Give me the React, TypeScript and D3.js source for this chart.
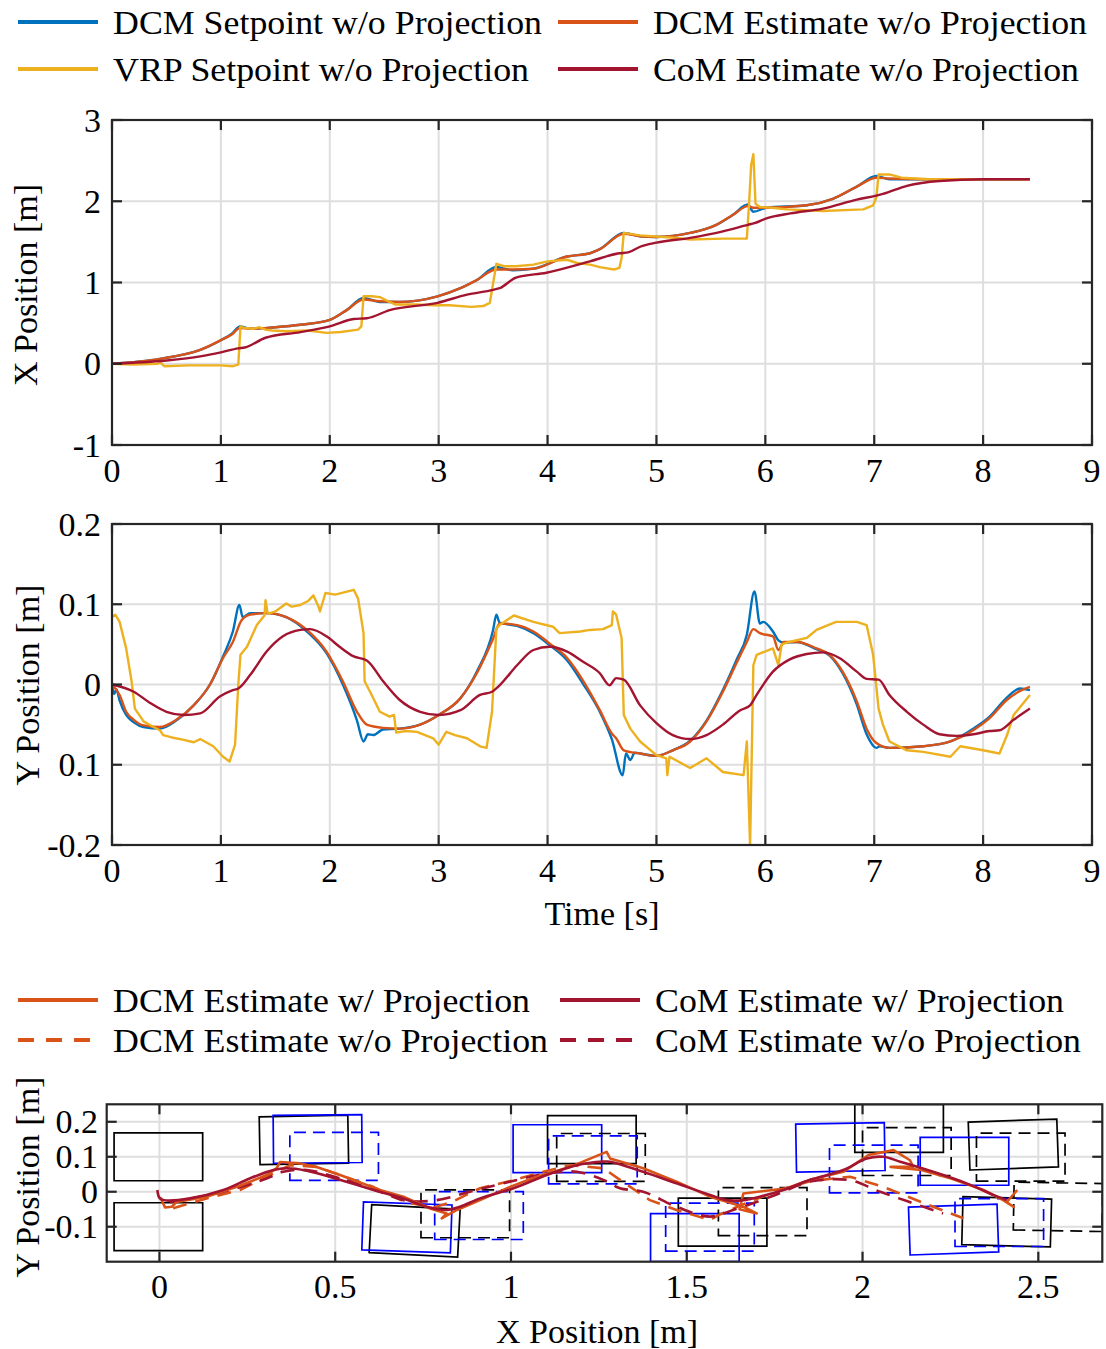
import React from 'react'
import * as d3 from 'd3'

type Pt = [number, number]

// ---------- top panel: X position over time [t, m] ----------
const xDcmSetpoint: Pt[] = [[0,0],[0.44,0.06],[0.81,0.17],[1.0,0.29],[1.1,0.37],[1.175,0.46],[1.27,0.43],[1.5,0.45],[1.73,0.48],[2.0,0.54],[2.155,0.66],[2.31,0.81],[2.46,0.76],[2.64,0.76],[2.99,0.83],[3.2,0.93],[3.35,1.03],[3.53,1.19],[3.68,1.15],[3.87,1.17],[4.18,1.32],[4.39,1.36],[4.48,1.41],[4.7,1.61],[4.85,1.57],[5.0,1.56],[5.31,1.61],[5.55,1.71],[5.7,1.83],[5.84,1.96],[5.89,1.87],[6.01,1.92],[6.38,1.95],[6.62,2.03],[6.84,2.18],[7.02,2.31],[7.14,2.27],[7.5,2.27],[8.0,2.27],[8.43,2.27]]
const xDcmEstimate: Pt[] = [[0,0],[0.44,0.06],[0.81,0.17],[1.0,0.29],[1.1,0.36],[1.175,0.44],[1.27,0.43],[1.5,0.45],[1.73,0.48],[2.0,0.54],[2.155,0.66],[2.31,0.79],[2.46,0.77],[2.64,0.76],[2.99,0.83],[3.2,0.93],[3.35,1.03],[3.53,1.16],[3.68,1.16],[3.87,1.17],[4.18,1.32],[4.39,1.36],[4.48,1.41],[4.7,1.6],[4.85,1.57],[5.0,1.56],[5.31,1.61],[5.55,1.71],[5.7,1.83],[5.84,1.94],[5.89,1.92],[6.01,1.92],[6.38,1.95],[6.62,2.03],[6.84,2.18],[7.02,2.29],[7.14,2.28],[7.5,2.27],[8.0,2.27],[8.43,2.27]]
const xVrpSetpoint: Pt[] = [[0,0],[0.2,-0.01],[0.42,0.0],[0.44,0.02],[0.48,-0.03],[0.7,-0.02],[1.0,-0.02],[1.11,-0.03],[1.16,-0.01],[1.18,0.46],[1.21,0.44],[1.3,0.43],[1.35,0.45],[1.41,0.42],[1.47,0.41],[1.6,0.4],[1.8,0.41],[1.97,0.38],[2.1,0.39],[2.26,0.42],[2.29,0.46],[2.31,0.83],[2.39,0.83],[2.46,0.82],[2.55,0.76],[2.6,0.73],[2.8,0.73],[2.95,0.72],[3.1,0.72],[3.3,0.7],[3.41,0.71],[3.47,0.75],[3.53,1.23],[3.6,1.2],[3.71,1.2],[3.87,1.22],[4.0,1.26],[4.18,1.28],[4.27,1.24],[4.39,1.22],[4.48,1.19],[4.61,1.16],[4.66,1.18],[4.68,1.3],[4.7,1.61],[4.85,1.58],[5.16,1.55],[5.31,1.53],[5.61,1.54],[5.83,1.54],[5.85,1.95],[5.87,2.45],[5.89,2.58],[5.91,1.97],[5.95,1.93],[6.06,1.92],[6.2,1.9],[6.53,1.88],[6.9,1.9],[6.99,1.95],[7.02,2.05],[7.04,2.33],[7.14,2.33],[7.25,2.29],[7.5,2.27],[8.0,2.27],[8.43,2.27]]
const xComEstimate: Pt[] = [[0,0],[0.5,0.04],[0.81,0.09],[1.0,0.14],[1.16,0.19],[1.22,0.2],[1.41,0.32],[1.73,0.39],[2.0,0.46],[2.22,0.55],[2.34,0.56],[2.55,0.66],[2.99,0.75],[3.26,0.85],[3.5,0.91],[3.56,0.93],[3.71,1.06],[3.99,1.12],[4.39,1.26],[4.66,1.36],[4.74,1.37],[4.85,1.44],[5.0,1.49],[5.31,1.55],[5.61,1.63],[5.84,1.71],[5.9,1.73],[6.01,1.79],[6.23,1.85],[6.53,1.91],[6.84,2.02],[7.02,2.07],[7.08,2.09],[7.3,2.19],[7.6,2.25],[8.0,2.27],[8.43,2.27]]

// ---------- middle panel: Y position over time [t, m] ----------
const yDcmSetpoint: Pt[] = [[0,0],[0.02,-0.012],[0.04,-0.006],[0.07,-0.02],[0.13,-0.038],[0.2,-0.047],[0.29,-0.053],[0.44,-0.055],[0.59,-0.045],[0.75,-0.026],[0.9,0.0],[1.02,0.035],[1.11,0.066],[1.17,0.099],[1.2,0.084],[1.27,0.089],[1.42,0.089],[1.6,0.084],[1.79,0.066],[1.97,0.039],[2.12,0.0],[2.25,-0.045],[2.31,-0.071],[2.35,-0.062],[2.4,-0.063],[2.49,-0.056],[2.64,-0.055],[2.83,-0.05],[3.0,-0.038],[3.2,-0.017],[3.35,0.016],[3.5,0.068],[3.53,0.087],[3.56,0.077],[3.72,0.073],[3.87,0.064],[4.02,0.049],[4.18,0.03],[4.33,0.0],[4.48,-0.034],[4.59,-0.068],[4.69,-0.113],[4.72,-0.086],[4.76,-0.094],[4.8,-0.085],[4.85,-0.086],[5.0,-0.089],[5.15,-0.082],[5.31,-0.07],[5.46,-0.045],[5.61,-0.007],[5.74,0.032],[5.83,0.062],[5.9,0.116],[5.95,0.076],[5.98,0.078],[6.07,0.066],[6.12,0.055],[6.17,0.052],[6.29,0.053],[6.47,0.044],[6.59,0.036],[6.71,0.014],[6.84,-0.025],[6.93,-0.062],[7.02,-0.079],[7.05,-0.077],[7.14,-0.079],[7.45,-0.077],[7.7,-0.071],[7.91,-0.055],[8.06,-0.04],[8.22,-0.016],[8.34,-0.005],[8.43,-0.007]]
const yDcmEstimate: Pt[] = [[0,0],[0.07,-0.013],[0.13,-0.034],[0.2,-0.044],[0.29,-0.051],[0.44,-0.053],[0.59,-0.044],[0.75,-0.026],[0.9,0.0],[1.02,0.033],[1.11,0.053],[1.19,0.08],[1.27,0.087],[1.42,0.089],[1.6,0.084],[1.79,0.068],[1.97,0.041],[2.12,0.004],[2.25,-0.034],[2.34,-0.05],[2.49,-0.054],[2.64,-0.055],[2.83,-0.05],[3.0,-0.038],[3.2,-0.017],[3.35,0.014],[3.5,0.057],[3.56,0.076],[3.72,0.074],[3.87,0.066],[4.02,0.051],[4.18,0.033],[4.33,0.004],[4.48,-0.032],[4.59,-0.061],[4.63,-0.067],[4.7,-0.082],[4.85,-0.086],[5.0,-0.089],[5.15,-0.082],[5.31,-0.071],[5.46,-0.046],[5.61,-0.009],[5.74,0.028],[5.83,0.053],[5.89,0.069],[5.95,0.064],[6.07,0.06],[6.12,0.043],[6.17,0.053],[6.29,0.053],[6.47,0.045],[6.59,0.037],[6.71,0.016],[6.84,-0.021],[6.93,-0.055],[7.02,-0.073],[7.14,-0.079],[7.45,-0.077],[7.7,-0.071],[7.91,-0.057],[8.06,-0.042],[8.22,-0.019],[8.34,-0.008],[8.43,-0.003]]
const yVrpSetpoint: Pt[] = [[0,0.084],[0.03,0.087],[0.07,0.078],[0.13,0.045],[0.18,0.004],[0.21,-0.03],[0.29,-0.046],[0.38,-0.053],[0.44,-0.057],[0.47,-0.063],[0.55,-0.066],[0.66,-0.069],[0.75,-0.072],[0.81,-0.068],[0.93,-0.077],[1.02,-0.09],[1.08,-0.096],[1.13,-0.075],[1.16,0.0],[1.18,0.037],[1.24,0.047],[1.33,0.074],[1.4,0.086],[1.41,0.105],[1.43,0.088],[1.5,0.091],[1.6,0.101],[1.65,0.097],[1.73,0.099],[1.8,0.104],[1.85,0.111],[1.9,0.096],[1.91,0.091],[1.96,0.114],[2.05,0.112],[2.22,0.118],[2.26,0.107],[2.31,0.064],[2.32,0.004],[2.37,-0.009],[2.46,-0.034],[2.55,-0.04],[2.59,-0.038],[2.61,-0.06],[2.7,-0.058],[2.8,-0.059],[2.95,-0.067],[3.0,-0.075],[3.07,-0.059],[3.15,-0.063],[3.26,-0.067],[3.38,-0.077],[3.44,-0.079],[3.49,-0.034],[3.53,0.07],[3.56,0.074],[3.69,0.086],[3.87,0.078],[4.05,0.072],[4.11,0.064],[4.3,0.066],[4.39,0.068],[4.51,0.069],[4.59,0.074],[4.6,0.091],[4.63,0.087],[4.68,0.058],[4.7,-0.038],[4.76,-0.055],[4.85,-0.071],[5.0,-0.088],[5.09,-0.092],[5.1,-0.113],[5.12,-0.09],[5.31,-0.104],[5.46,-0.092],[5.61,-0.109],[5.8,-0.113],[5.83,-0.071],[5.86,-0.2],[5.89,0.024],[5.92,0.037],[6.07,0.045],[6.12,0.024],[6.15,0.05],[6.22,0.053],[6.38,0.058],[6.47,0.068],[6.65,0.078],[6.84,0.078],[6.93,0.074],[6.99,0.037],[7.04,-0.03],[7.08,-0.05],[7.14,-0.071],[7.3,-0.082],[7.45,-0.084],[7.7,-0.09],[7.79,-0.077],[8.0,-0.082],[8.15,-0.086],[8.22,-0.063],[8.28,-0.038],[8.43,-0.013]]
const yComEstimate: Pt[] = [[0,0],[0.2,-0.009],[0.35,-0.023],[0.5,-0.034],[0.66,-0.038],[0.81,-0.036],[0.99,-0.015],[1.11,-0.007],[1.16,-0.005],[1.27,0.012],[1.42,0.041],[1.57,0.06],[1.73,0.068],[1.82,0.069],[1.97,0.06],[2.09,0.047],[2.22,0.035],[2.34,0.03],[2.49,0.004],[2.64,-0.019],[2.83,-0.034],[3.0,-0.038],[3.2,-0.032],[3.38,-0.013],[3.49,-0.009],[3.56,-0.001],[3.72,0.024],[3.87,0.043],[4.02,0.047],[4.18,0.041],[4.33,0.028],[4.48,0.014],[4.57,-0.001],[4.63,0.008],[4.7,0.006],[4.85,-0.026],[5.0,-0.048],[5.15,-0.063],[5.31,-0.068],[5.46,-0.063],[5.61,-0.05],[5.77,-0.032],[5.86,-0.026],[5.92,-0.013],[6.07,0.016],[6.22,0.031],[6.38,0.038],[6.53,0.04],[6.68,0.033],[6.84,0.016],[6.93,0.007],[7.04,0.006],[7.14,-0.013],[7.3,-0.034],[7.45,-0.05],[7.6,-0.062],[7.76,-0.064],[7.91,-0.062],[8.06,-0.058],[8.15,-0.057],[8.28,-0.044],[8.43,-0.03]]

// ---------- bottom panel: XY trajectories [x, y] in m ----------
const dcmWithProj: Pt[] = [[0.002,-0.015],[0.016,-0.045],[0.035,-0.043],[0.049,-0.029],[0.134,-0.014],[0.229,0.017],[0.305,0.048],[0.333,0.067],[0.343,0.085],[0.4,0.081],[0.447,0.071],[0.514,0.048],[0.627,0.005],[0.694,-0.014],[0.77,-0.048],[0.817,-0.062],[0.803,-0.076],[0.846,-0.052],[0.912,-0.024],[0.997,0.014],[1.073,0.043],[1.168,0.071],[1.272,0.114],[1.282,0.095],[1.376,0.067],[1.471,0.029],[1.566,-0.014],[1.661,-0.043],[1.699,-0.062],[1.65,-0.05],[1.661,-0.005],[1.784,0.01],[1.851,0.034],[1.945,0.057],[2.017,0.105],[2.088,0.119],[2.135,0.09],[2.144,0.071],[2.08,0.071],[2.167,0.062],[2.252,0.038],[2.344,0.005],[2.4,-0.024],[2.43,-0.043],[2.41,-0.03],[2.44,0.005]]
const comWithProj: Pt[] = [[-0.006,0.005],[0.001,-0.019],[0.02,-0.025],[0.087,-0.019],[0.182,0.005],[0.257,0.038],[0.324,0.062],[0.362,0.067],[0.419,0.06],[0.513,0.034],[0.627,0.0],[0.694,-0.019],[0.76,-0.043],[0.817,-0.052],[0.855,-0.043],[0.912,-0.019],[1.007,0.01],[1.102,0.048],[1.187,0.076],[1.263,0.086],[1.282,0.086],[1.376,0.057],[1.471,0.024],[1.566,-0.009],[1.614,-0.024],[1.661,-0.024],[1.708,-0.014],[1.775,0.005],[1.851,0.034],[1.945,0.062],[2.012,0.095],[2.059,0.1],[2.107,0.086],[2.201,0.057],[2.296,0.024],[2.372,-0.009],[2.41,-0.024]]
const dcmWithoutProj: Pt[] = [[0.039,-0.047],[0.134,-0.019],[0.229,0.005],[0.324,0.052],[0.371,0.076],[0.447,0.071],[0.514,0.048],[0.608,0.014],[0.7,-0.03],[0.78,-0.045],[0.83,-0.03],[0.912,0.01],[1.007,0.033],[1.092,0.057],[1.168,0.076],[1.263,0.067],[1.31,0.034],[1.395,-0.024],[1.471,-0.052],[1.566,-0.081],[1.59,-0.067],[1.65,-0.04],[1.75,0.0],[1.85,0.03],[1.964,0.043],[2.059,0.014],[2.201,-0.043],[2.287,-0.076]]
const comWithoutProj: Pt[] = [[0.03,-0.03],[0.182,0.0],[0.305,0.038],[0.352,0.057],[0.419,0.062],[0.514,0.038],[0.627,0.0],[0.7,-0.025],[0.789,-0.024],[0.883,0.0],[0.978,0.024],[1.102,0.052],[1.187,0.057],[1.263,0.034],[1.31,0.01],[1.376,0.0],[1.471,-0.043],[1.566,-0.071],[1.632,-0.052],[1.75,-0.01],[1.851,0.029],[1.964,0.033],[2.05,0.0],[2.229,-0.062]]

// footsteps: [centre x, centre y, yaw in degrees]
const stepsBlackSolid: [number, number, number][] = [[-0.003,0.1,0],[-0.003,-0.1,0],[0.411,0.148,1],[0.726,-0.112,-3],[1.23,0.149,0],[1.602,-0.087,0],[2.104,0.181,0],[2.429,0.135,2],[2.41,-0.086,-1.5]]
const stepsBlueSolid: [number, number, number][] = [[0.45,0.151,0.5],[0.704,-0.102,-2],[1.132,0.123,0],[1.523,-0.131,0],[1.937,0.127,1],[2.29,0.087,0],[2.259,-0.108,2]]
const stepsBlackDashed: [number, number, number][] = [[0.87,-0.063,0],[1.256,0.098,0],[1.716,-0.057,0],[2.126,0.115,0],[2.45,0.099,0],[2.556,-0.043,-1]]
const stepsBlueDashed: [number, number, number][] = [[0.497,0.101,0],[0.909,-0.068,0],[1.233,0.091,0],[1.566,-0.101,0],[2.032,0.065,0],[2.389,-0.088,0]]
const footLength = 0.252
const footWidth = 0.137

const timeTicks = [0, 1, 2, 3, 4, 5, 6, 7, 8, 9]
const xPosTicks = [-1, 0, 1, 2, 3]
const yPosTicks = [-0.2, -0.1, 0, 0.1, 0.2]
const yPosTickText = ['-0.2', '0.1', '0', '0.1', '0.2']
const planXTicks = [0, 0.5, 1, 1.5, 2, 2.5]
const planYTicks = [-0.1, 0, 0.1, 0.2]

const BLUE = '#0072BD'
const ORANGE = '#D95319'
const YELLOW = '#EDB120'
const RED = '#A2142F'
const AXIS = '#262626'
const GRID = '#dedede'
const FONT = '"Liberation Serif", "Times New Roman", serif'
const FS = 34

const Axes = ({ id, xs, ys, xTicks, xText, yTicks, yText, xTextY, yTextX, children }: any) => {
  const [x0, x1] = xs.range()
  const [yb, yt] = ys.range()
  const tl = 10
  return (
    <g>
      <defs>
        <clipPath id={id}><rect x={x0} y={yt} width={x1 - x0} height={yb - yt} /></clipPath>
      </defs>
      <g stroke={GRID} strokeWidth={2}>
        {xTicks.map((t: number) => <line key={'gx' + t} x1={xs(t)} x2={xs(t)} y1={yt} y2={yb} />)}
        {yTicks.map((t: number) => <line key={'gy' + t} x1={x0} x2={x1} y1={ys(t)} y2={ys(t)} />)}
      </g>
      <g clipPath={`url(#${id})`}>{children}</g>
      <g stroke={AXIS} strokeWidth={2.2}>
        {xTicks.map((t: number) => (
          <g key={'tx' + t}>
            <line x1={xs(t)} x2={xs(t)} y1={yb} y2={yb - tl} />
            <line x1={xs(t)} x2={xs(t)} y1={yt} y2={yt + tl} />
          </g>
        ))}
        {yTicks.map((t: number) => (
          <g key={'ty' + t}>
            <line x1={x0} x2={x0 + tl} y1={ys(t)} y2={ys(t)} />
            <line x1={x1} x2={x1 - tl} y1={ys(t)} y2={ys(t)} />
          </g>
        ))}
        <rect x={x0} y={yt} width={x1 - x0} height={yb - yt} fill="none" />
      </g>
      <g fontFamily={FONT} fontSize={FS} fill="#000">
        {xTicks.map((t: number, i: number) => (
          <text key={'lx' + t} x={xs(t)} y={xTextY} textAnchor="middle">{xText[i]}</text>
        ))}
        {yTicks.map((t: number, i: number) => (
          <text key={'ly' + t} x={yTextX} y={ys(t)} dy="0.34em" textAnchor="end">{yText[i]}</text>
        ))}
      </g>
    </g>
  )
}

const LegendItem = ({ x, y, color, dash, label, width }: any) => (
  <g>
    <line x1={x} x2={x + 80} y1={y} y2={y} stroke={color} strokeWidth={4} strokeDasharray={dash} />
    <text x={x + 95} y={y + 12} fontFamily={FONT} fontSize={FS}
      textLength={width} lengthAdjust="spacingAndGlyphs">{label}</text>
  </g>
)

export default function App() {
  const tScale = d3.scaleLinear().domain([0, 9]).range([112, 1092])
  const xPos = d3.scaleLinear().domain([-1, 3]).range([445, 120])
  const yPos = d3.scaleLinear().domain([-0.2, 0.2]).range([845, 524])
  const planX = d3.scaleLinear().domain([-0.15, 2.682]).range([106.7, 1102.3])
  const planY = d3.scaleLinear().domain([-0.2, 0.25]).range([1261.7, 1104.3])

  const xLine = d3.line<Pt>().x(d => tScale(d[0])).y(d => xPos(d[1]))
  const yLine = d3.line<Pt>().x(d => tScale(d[0])).y(d => yPos(d[1]))
  const xSmooth = d3.line<Pt>().x(d => tScale(d[0])).y(d => xPos(d[1])).curve(d3.curveMonotoneX)
  const ySmooth = d3.line<Pt>().x(d => tScale(d[0])).y(d => yPos(d[1])).curve(d3.curveMonotoneX)
  const planLine = d3.line<Pt>().x(d => planX(d[0])).y(d => planY(d[1]))
  const planSmooth = d3.line<Pt>().x(d => planX(d[0])).y(d => planY(d[1])).curve(d3.curveCatmullRom)

  const footPath = (s: [number, number, number]) => {
    const a = (s[2] * Math.PI) / 180
    const c = Math.cos(a), sn = Math.sin(a)
    const corners: Pt[] = [[-1, -1], [1, -1], [1, 1], [-1, 1]].map(([u, v]) => {
      const lx = (u * footLength) / 2, ly = (v * footWidth) / 2
      return [s[0] + lx * c - ly * sn, s[1] + lx * sn + ly * c] as Pt
    })
    return planLine(corners) + 'Z'
  }

  const lineProps = { fill: 'none', strokeWidth: 2.4, strokeLinejoin: 'round' as const }
  const timeText = timeTicks.map(String)

  return (
    <div style={{ position: 'absolute', left: 0, top: 0, background: '#fff' }}>
      <svg width={1106} height={1349} viewBox="0 0 1106 1349">
        <rect width={1106} height={1349} fill="#fff" />

        {/* legend top */}
        <LegendItem x={18} y={22} color={BLUE} width={429} label="DCM Setpoint w/o Projection" />
        <LegendItem x={558} y={22} color={ORANGE} width={434} label="DCM Estimate w/o Projection" />
        <LegendItem x={18} y={69} color={YELLOW} width={416} label="VRP Setpoint w/o Projection" />
        <LegendItem x={558} y={69} color={RED} width={426} label="CoM Estimate w/o Projection" />

        <Axes id="c1" xs={tScale} ys={xPos} xTicks={timeTicks} xText={timeText}
          yTicks={xPosTicks} yText={xPosTicks.map(String)} xTextY={482} yTextX={101}>
          <path d={xSmooth(xDcmSetpoint)!} stroke={BLUE} {...lineProps} />
          <path d={xSmooth(xDcmEstimate)!} stroke={ORANGE} {...lineProps} />
          <path d={xLine(xVrpSetpoint)!} stroke={YELLOW} {...lineProps} />
          <path d={xSmooth(xComEstimate)!} stroke={RED} {...lineProps} />
        </Axes>
        <text transform="translate(37,285) rotate(-90)" textAnchor="middle" fontFamily={FONT} fontSize={FS}>X Position [m]</text>

        <Axes id="c2" xs={tScale} ys={yPos} xTicks={timeTicks} xText={timeText}
          yTicks={yPosTicks} yText={yPosTickText} xTextY={882} yTextX={101}>
          <path d={ySmooth(yDcmSetpoint)!} stroke={BLUE} {...lineProps} />
          <path d={ySmooth(yDcmEstimate)!} stroke={ORANGE} {...lineProps} />
          <path d={yLine(yVrpSetpoint)!} stroke={YELLOW} {...lineProps} />
          <path d={ySmooth(yComEstimate)!} stroke={RED} {...lineProps} />
        </Axes>
        <text transform="translate(39,685) rotate(-90)" textAnchor="middle" fontFamily={FONT} fontSize={FS}>Y Position [m]</text>
        <text x={602} y={925} textAnchor="middle" fontFamily={FONT} fontSize={FS}>Time [s]</text>

        {/* legend bottom */}
        <LegendItem x={18} y={1000} color={ORANGE} width={417} label="DCM Estimate w/ Projection" />
        <LegendItem x={560} y={1000} color={RED} width={409} label="CoM Estimate w/ Projection" />
        <LegendItem x={18} y={1040} color={ORANGE} dash="16,12" width={435} label="DCM Estimate w/o Projection" />
        <LegendItem x={560} y={1040} color={RED} dash="16,12" width={426} label="CoM Estimate w/o Projection" />

        <Axes id="c3" xs={planX} ys={planY} xTicks={planXTicks} xText={planXTicks.map(String)}
          yTicks={planYTicks} yText={planYTicks.map(String)} xTextY={1298} yTextX={98}>
          <g fill="none" strokeWidth={1.7}>
            {stepsBlackSolid.map((s, i) => <path key={'bs' + i} d={footPath(s)} stroke="#000" />)}
            {stepsBlueSolid.map((s, i) => <path key={'us' + i} d={footPath(s)} stroke="#0000ff" />)}
            {stepsBlackDashed.map((s, i) => <path key={'bd' + i} d={footPath(s)} stroke="#000" strokeDasharray="12,7" />)}
            {stepsBlueDashed.map((s, i) => <path key={'ud' + i} d={footPath(s)} stroke="#0000ff" strokeDasharray="12,7" />)}
          </g>
          <path d={planLine(dcmWithoutProj)!} stroke={ORANGE} strokeDasharray="14,9" {...lineProps} strokeWidth={2.6} />
          <path d={planSmooth(comWithoutProj)!} stroke={RED} strokeDasharray="14,9" {...lineProps} strokeWidth={2.6} />
          <path d={planLine(dcmWithProj)!} stroke={ORANGE} {...lineProps} strokeWidth={2.6} />
          <path d={planSmooth(comWithProj)!} stroke={RED} {...lineProps} strokeWidth={2.6} />
        </Axes>
        <text transform="translate(39,1177) rotate(-90)" textAnchor="middle" fontFamily={FONT} fontSize={FS}>Y Position [m]</text>
        <text x={597} y={1343} textAnchor="middle" fontFamily={FONT} fontSize={FS}>X Position [m]</text>
      </svg>
    </div>
  )
}
